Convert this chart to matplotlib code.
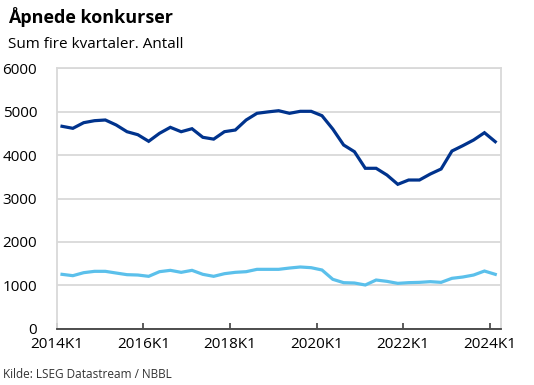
import numpy as np
import matplotlib.pyplot as plt

plt.rcParams['font.family'] = ['Open Sans', 'DejaVu Sans']

# quarterly values 2014K1 - 2024K1
quarters = [f'{y}K{q}' for y in range(2014, 2025) for q in range(1, 5)][:41]
dark = [4664, 4617, 4747, 4793, 4809, 4694, 4539, 4470, 4318, 4502,
        4640, 4539, 4608, 4410, 4368, 4540, 4578, 4809, 4963, 4995,
        5023, 4963, 5009, 5009, 4908, 4600, 4233, 4078, 3696, 3696,
        3541, 3327, 3426, 3426, 3564, 3680, 4094, 4217, 4348, 4516,
        4309]
light = [1253, 1222, 1291, 1322, 1322, 1283, 1245, 1237, 1207, 1314,
         1345, 1299, 1345, 1253, 1207, 1268, 1299, 1314, 1368, 1368,
         1368, 1398, 1422, 1406, 1353, 1138, 1061, 1053, 1007, 1122,
         1091, 1045, 1061, 1068, 1084, 1068, 1161, 1191, 1237, 1329,
         1253]
tick_labels = ['2014K1', '2016K1', '2018K1', '2020K1', '2022K1', '2024K1']

fig = plt.figure(figsize=(5.34, 3.85), dpi=100)
ax = fig.add_axes([0.106, 0.1462, 0.8316, 0.6764])

x = np.arange(len(quarters))
ax.plot(x, light, color='#5BC0EB', lw=2.3, solid_joinstyle='miter')
ax.plot(x, dark, color='#00338D', lw=2.3, solid_joinstyle='miter')

ax.set_xlim(-0.5, len(quarters) - 0.5)
ax.set_ylim(0, 6000)
ax.set_yticks(range(0, 6001, 1000))
ax.yaxis.grid(True, color='#D9D9D9', lw=1.3)
ax.set_axisbelow(True)

ax.set_xticks(np.arange(0, 41, 8) - 0.5)
ax.set_xticklabels(tick_labels)
ax.tick_params(axis='x', direction='in', length=4, width=1.2, color='#404040',
               labelsize=11, pad=6)
ax.tick_params(axis='y', length=0, labelsize=11, pad=14)

for s in ['left', 'right', 'top']:
    ax.spines[s].set_color('#D9D9D9')
    ax.spines[s].set_linewidth(1.3)
ax.spines['bottom'].set_color('#404040')
ax.spines['bottom'].set_linewidth(1.3)
ax.spines['bottom'].set_zorder(5)

fig.text(0.015, 0.955, 'Åpnede konkurser', fontsize=13, fontweight='bold', va='center')
fig.text(0.015, 0.885, 'Sum fire kvartaler. Antall', fontsize=11, va='center')
fig.text(0.006, 0.028, 'Kilde: LSEG Datastream / NBBL', fontsize=8.5, va='center',
         color='#333333')

fig.savefig('out.png', dpi=100)
